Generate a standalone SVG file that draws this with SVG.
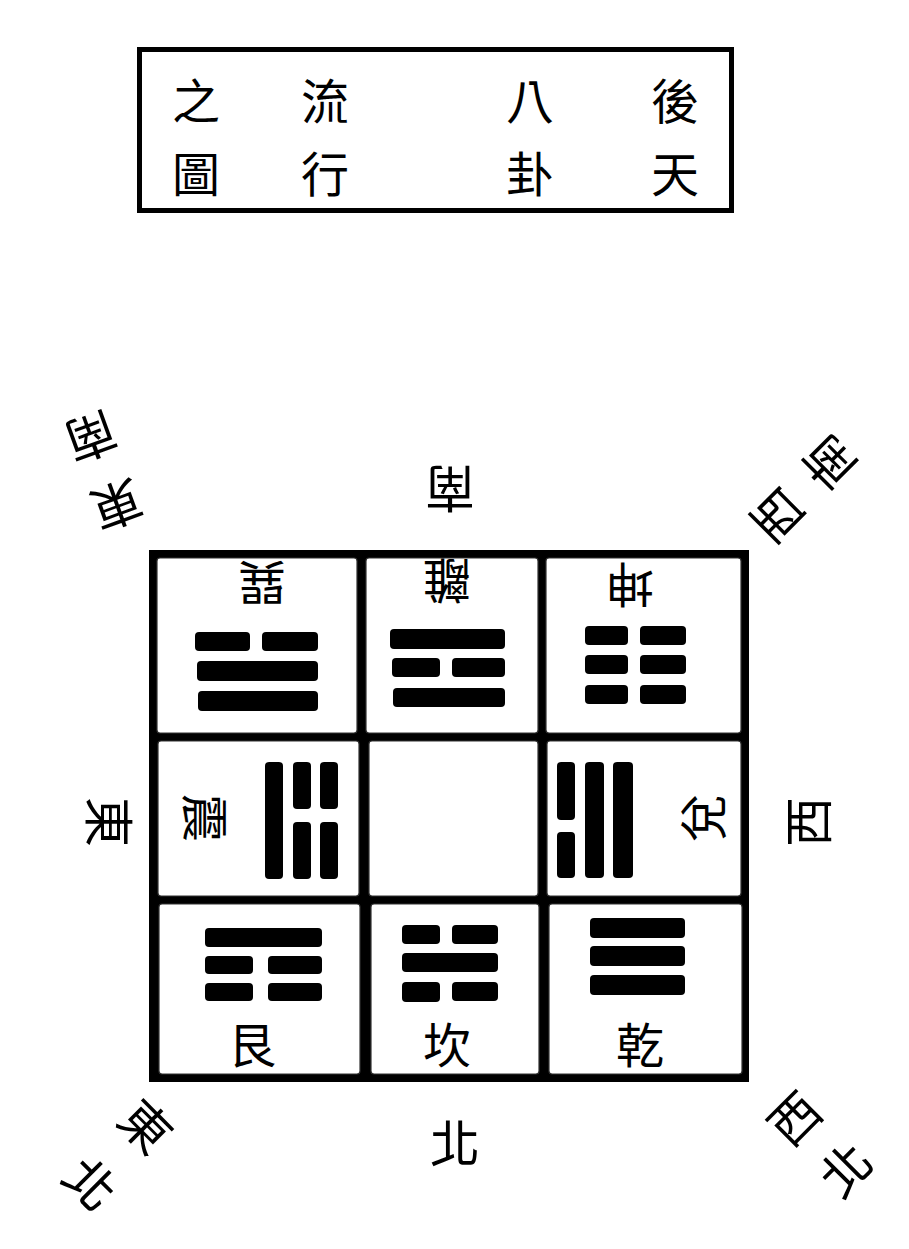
<svg xmlns="http://www.w3.org/2000/svg" width="909" height="1249" viewBox="0 0 909 1249">
<style>
  .bg { fill: #ffffff; }
  .ch { font-family: "Noto Sans CJK TC", "Noto Sans CJK SC", sans-serif; fill: #000; text-anchor: middle; dominant-baseline: central; }
  .title { font-size: 48px; }
  .lbl { font-size: 48px; }
  .dir { font-size: 50px; }
  .bar { fill: #000; }
  .cell { fill: #fff; stroke: #333; stroke-width: 1.2; }
</style>
<rect class="bg" x="0" y="0" width="909" height="1249"/>

<g id="title">
  <rect x="139.5" y="49.5" width="592" height="161" fill="none" stroke="#000" stroke-width="5"/>
  <text class="ch title" x="675" y="98">後</text>
  <text class="ch title" x="675" y="171">天</text>
  <text class="ch title" x="530" y="98">八</text>
  <text class="ch title" x="530" y="171">卦</text>
  <text class="ch title" x="325" y="98">流</text>
  <text class="ch title" x="325" y="171">行</text>
  <text class="ch title" x="196" y="98">之</text>
  <text class="ch title" x="196" y="171">圖</text>
</g>

<g id="grid">
  <rect x="149" y="550" width="600" height="532" fill="#000"/>
</g>

<g id="cell-xun">
  <rect class="cell" x="157" y="558" width="200" height="175" rx="3"/>
  <text class="ch lbl" x="262" y="586" transform="rotate(180 262 586)">巽</text>
  <rect class="bar" x="195" y="632" width="55" height="19" rx="4"/>
  <rect class="bar" x="262" y="632" width="56" height="19" rx="4"/>
  <rect class="bar" x="197" y="661" width="121" height="20" rx="4"/>
  <rect class="bar" x="198" y="691" width="120" height="20" rx="4"/>
</g>

<g id="cell-li">
  <rect class="cell" x="366" y="558" width="172" height="175" rx="3"/>
  <text class="ch lbl" x="447" y="584" transform="rotate(180 447 584)">離</text>
  <rect class="bar" x="390" y="629" width="115" height="20" rx="4"/>
  <rect class="bar" x="392" y="658" width="48" height="19" rx="4"/>
  <rect class="bar" x="452" y="658" width="53" height="19" rx="4"/>
  <rect class="bar" x="393" y="688" width="112" height="19" rx="4"/>
</g>

<g id="cell-kun">
  <rect class="cell" x="546" y="558" width="195" height="175" rx="3"/>
  <text class="ch lbl" x="630" y="588" transform="rotate(180 630 588)">坤</text>
  <rect class="bar" x="585" y="626" width="43" height="19" rx="4"/>
  <rect class="bar" x="640" y="626" width="46" height="19" rx="4"/>
  <rect class="bar" x="585" y="655" width="43" height="19" rx="4"/>
  <rect class="bar" x="640" y="655" width="46" height="19" rx="4"/>
  <rect class="bar" x="585" y="685" width="43" height="19" rx="4"/>
  <rect class="bar" x="640" y="685" width="46" height="19" rx="4"/>
</g>

<g id="cell-zhen">
  <rect class="cell" x="158" y="741" width="201" height="155" rx="3"/>
  <text class="ch lbl" x="208" y="818" transform="rotate(90 208 818)">震</text>
  <rect class="bar" x="265" y="762" width="18" height="117" rx="4"/>
  <rect class="bar" x="293" y="762" width="18" height="47" rx="4"/>
  <rect class="bar" x="293" y="822" width="18" height="57" rx="4"/>
  <rect class="bar" x="320" y="762" width="18" height="47" rx="4"/>
  <rect class="bar" x="320" y="822" width="18" height="57" rx="4"/>
</g>

<g id="cell-center">
  <rect class="cell" x="369" y="741" width="169" height="155" rx="3"/>
</g>

<g id="cell-dui">
  <rect class="cell" x="547" y="741" width="194" height="155" rx="3"/>
  <text class="ch lbl" x="700" y="818" transform="rotate(-90 700 818)">兌</text>
  <rect class="bar" x="557" y="762" width="18" height="58" rx="4"/>
  <rect class="bar" x="557" y="832" width="18" height="46" rx="4"/>
  <rect class="bar" x="585" y="762" width="19" height="116" rx="4"/>
  <rect class="bar" x="613" y="762" width="20" height="116" rx="4"/>
</g>

<g id="cell-gen">
  <rect class="cell" x="159" y="904" width="201" height="170" rx="3"/>
  <rect class="bar" x="205" y="928" width="117" height="19" rx="4"/>
  <rect class="bar" x="205" y="956" width="48" height="18" rx="4"/>
  <rect class="bar" x="268" y="956" width="54" height="18" rx="4"/>
  <rect class="bar" x="205" y="983" width="48" height="18" rx="4"/>
  <rect class="bar" x="268" y="983" width="54" height="18" rx="4"/>
  <text class="ch lbl" x="252" y="1042">艮</text>
</g>

<g id="cell-kan">
  <rect class="cell" x="371" y="904" width="168" height="170" rx="3"/>
  <rect class="bar" x="402" y="925" width="38" height="19" rx="4"/>
  <rect class="bar" x="452" y="925" width="46" height="19" rx="4"/>
  <rect class="bar" x="402" y="953" width="96" height="19" rx="4"/>
  <rect class="bar" x="402" y="982" width="38" height="20" rx="4"/>
  <rect class="bar" x="452" y="982" width="46" height="19" rx="4"/>
  <text class="ch lbl" x="447" y="1042">坎</text>
</g>

<g id="cell-qian">
  <rect class="cell" x="549" y="904" width="193" height="170" rx="3"/>
  <rect class="bar" x="590" y="918" width="95" height="20" rx="4"/>
  <rect class="bar" x="590" y="946" width="95" height="20" rx="4"/>
  <rect class="bar" x="590" y="975" width="95" height="20" rx="4"/>
  <text class="ch lbl" x="640" y="1042">乾</text>
</g>

<g id="dir-south">
  <text class="ch dir" x="450" y="492" transform="rotate(180 450 492)">南</text>
</g>
<g id="dir-east">
  <text class="ch dir" x="112" y="822" transform="rotate(90 112 822)">東</text>
</g>
<g id="dir-west">
  <text class="ch dir" x="805" y="822" transform="rotate(-90 805 822)">西</text>
</g>
<g id="dir-north">
  <text class="ch dir" x="455" y="1140">北</text>
</g>
<g id="dir-southeast">
  <text class="ch dir" x="118" y="508" transform="rotate(160 118 508)">東</text>
  <text class="ch dir" x="92" y="440" transform="rotate(160 92 440)">南</text>
</g>
<g id="dir-southwest">
  <text class="ch dir" x="775" y="518" transform="rotate(-135 775 518)">西</text>
  <text class="ch dir" x="827" y="465" transform="rotate(-135 827 465)">南</text>
</g>
<g id="dir-northeast">
  <text class="ch dir" x="148" y="1124" transform="rotate(45 148 1124)">東</text>
  <text class="ch dir" x="93" y="1181" transform="rotate(45 93 1181)">北</text>
</g>
<g id="dir-northwest">
  <text class="ch dir" x="792" y="1116" transform="rotate(-45 792 1116)">西</text>
  <text class="ch dir" x="843" y="1167" transform="rotate(-45 843 1167)">北</text>
</g>

<g id="connectors"></g>
</svg>
